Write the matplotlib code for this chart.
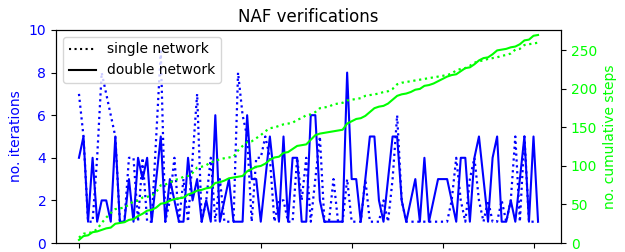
import numpy as np
import matplotlib
matplotlib.use("Agg")
import matplotlib.pyplot as plt
from matplotlib.lines import Line2D

# iterations per verification
double_network = [4, 5, 1, 4, 1, 2, 2, 1, 5, 1, 1, 3, 1, 4, 3, 4, 1, 3, 5,
                  1, 3, 2, 1, 1, 4, 2, 3, 1, 2, 1, 6, 1, 2, 3,
                  1, 1, 1, 6, 3, 3, 1, 3, 5, 3, 1, 5, 1, 4, 4, 1, 1,
                  6, 6, 2, 1, 1, 1, 1, 1, 8, 3, 3, 1, 3, 5, 5, 2, 1,
                  3, 5, 5, 2, 1, 2, 3, 1, 4, 1, 2, 3, 3, 3, 2, 1, 4,
                  4, 1, 4, 5, 3, 1, 4, 5, 1, 1, 2, 1, 3, 5, 1, 5, 1]
single_network = [7, 5, 1, 1, 4, 8, 7, 6, 5, 1, 1, 4, 4, 1, 4, 1, 1, 5, 9,
                  1, 2, 4, 1, 3, 1, 4, 7, 1, 2, 4, 1, 3, 1, 1,
                  1, 8, 6, 5, 1, 4, 4, 5, 4, 1, 2, 2, 1, 1, 4, 2, 4,
                  1, 3, 5, 1, 1, 3, 1, 1, 3, 1, 1, 1, 3, 1, 1, 1, 2,
                  1, 3, 6, 2, 1, 1, 1, 1, 1, 1, 1, 1, 1, 1, 2, 4, 2,
                  1, 3, 4, 2, 1, 2, 1, 1, 2, 1, 2, 5, 1, 5, 1, 1, 1]

x = np.arange(len(double_network))
cum_single = np.cumsum(single_network)
cum_double = np.cumsum(double_network)

fig = plt.figure(figsize=(6.25, 2.52), dpi=100)
ax = fig.add_axes([0.0896, 0.0357, 0.8080, 0.8453])
ax.plot(x, single_network, color="blue", linestyle=":", linewidth=1.6)
ax.plot(x, double_network, color="blue", linestyle="-", linewidth=1.5)
ax.set_ylim(0, 10)
ax.set_ylabel("no. iterations", color="blue")
ax.tick_params(axis="y", labelcolor="blue")
ax.set_xticks([0, 20, 40, 60, 80, 100])
ax.set_xticklabels([])
ax.set_title("NAF verifications")

ax2 = ax.twinx()
ax2.plot(x, cum_single, color="lime", linestyle=":", linewidth=1.6)
ax2.plot(x, cum_double, color="lime", linestyle="-", linewidth=1.5)
ax2.set_ylim(0, 276.5)
ax2.set_ylabel("no. cumulative steps", color="lime")
ax2.tick_params(axis="y", labelcolor="lime")

handles = [Line2D([], [], color="black", linestyle=":", linewidth=1.5),
           Line2D([], [], color="black", linestyle="-", linewidth=1.5)]
ax2.legend(handles, ["single network", "double network"], loc="upper left")

fig.savefig("out.png", dpi=100)
